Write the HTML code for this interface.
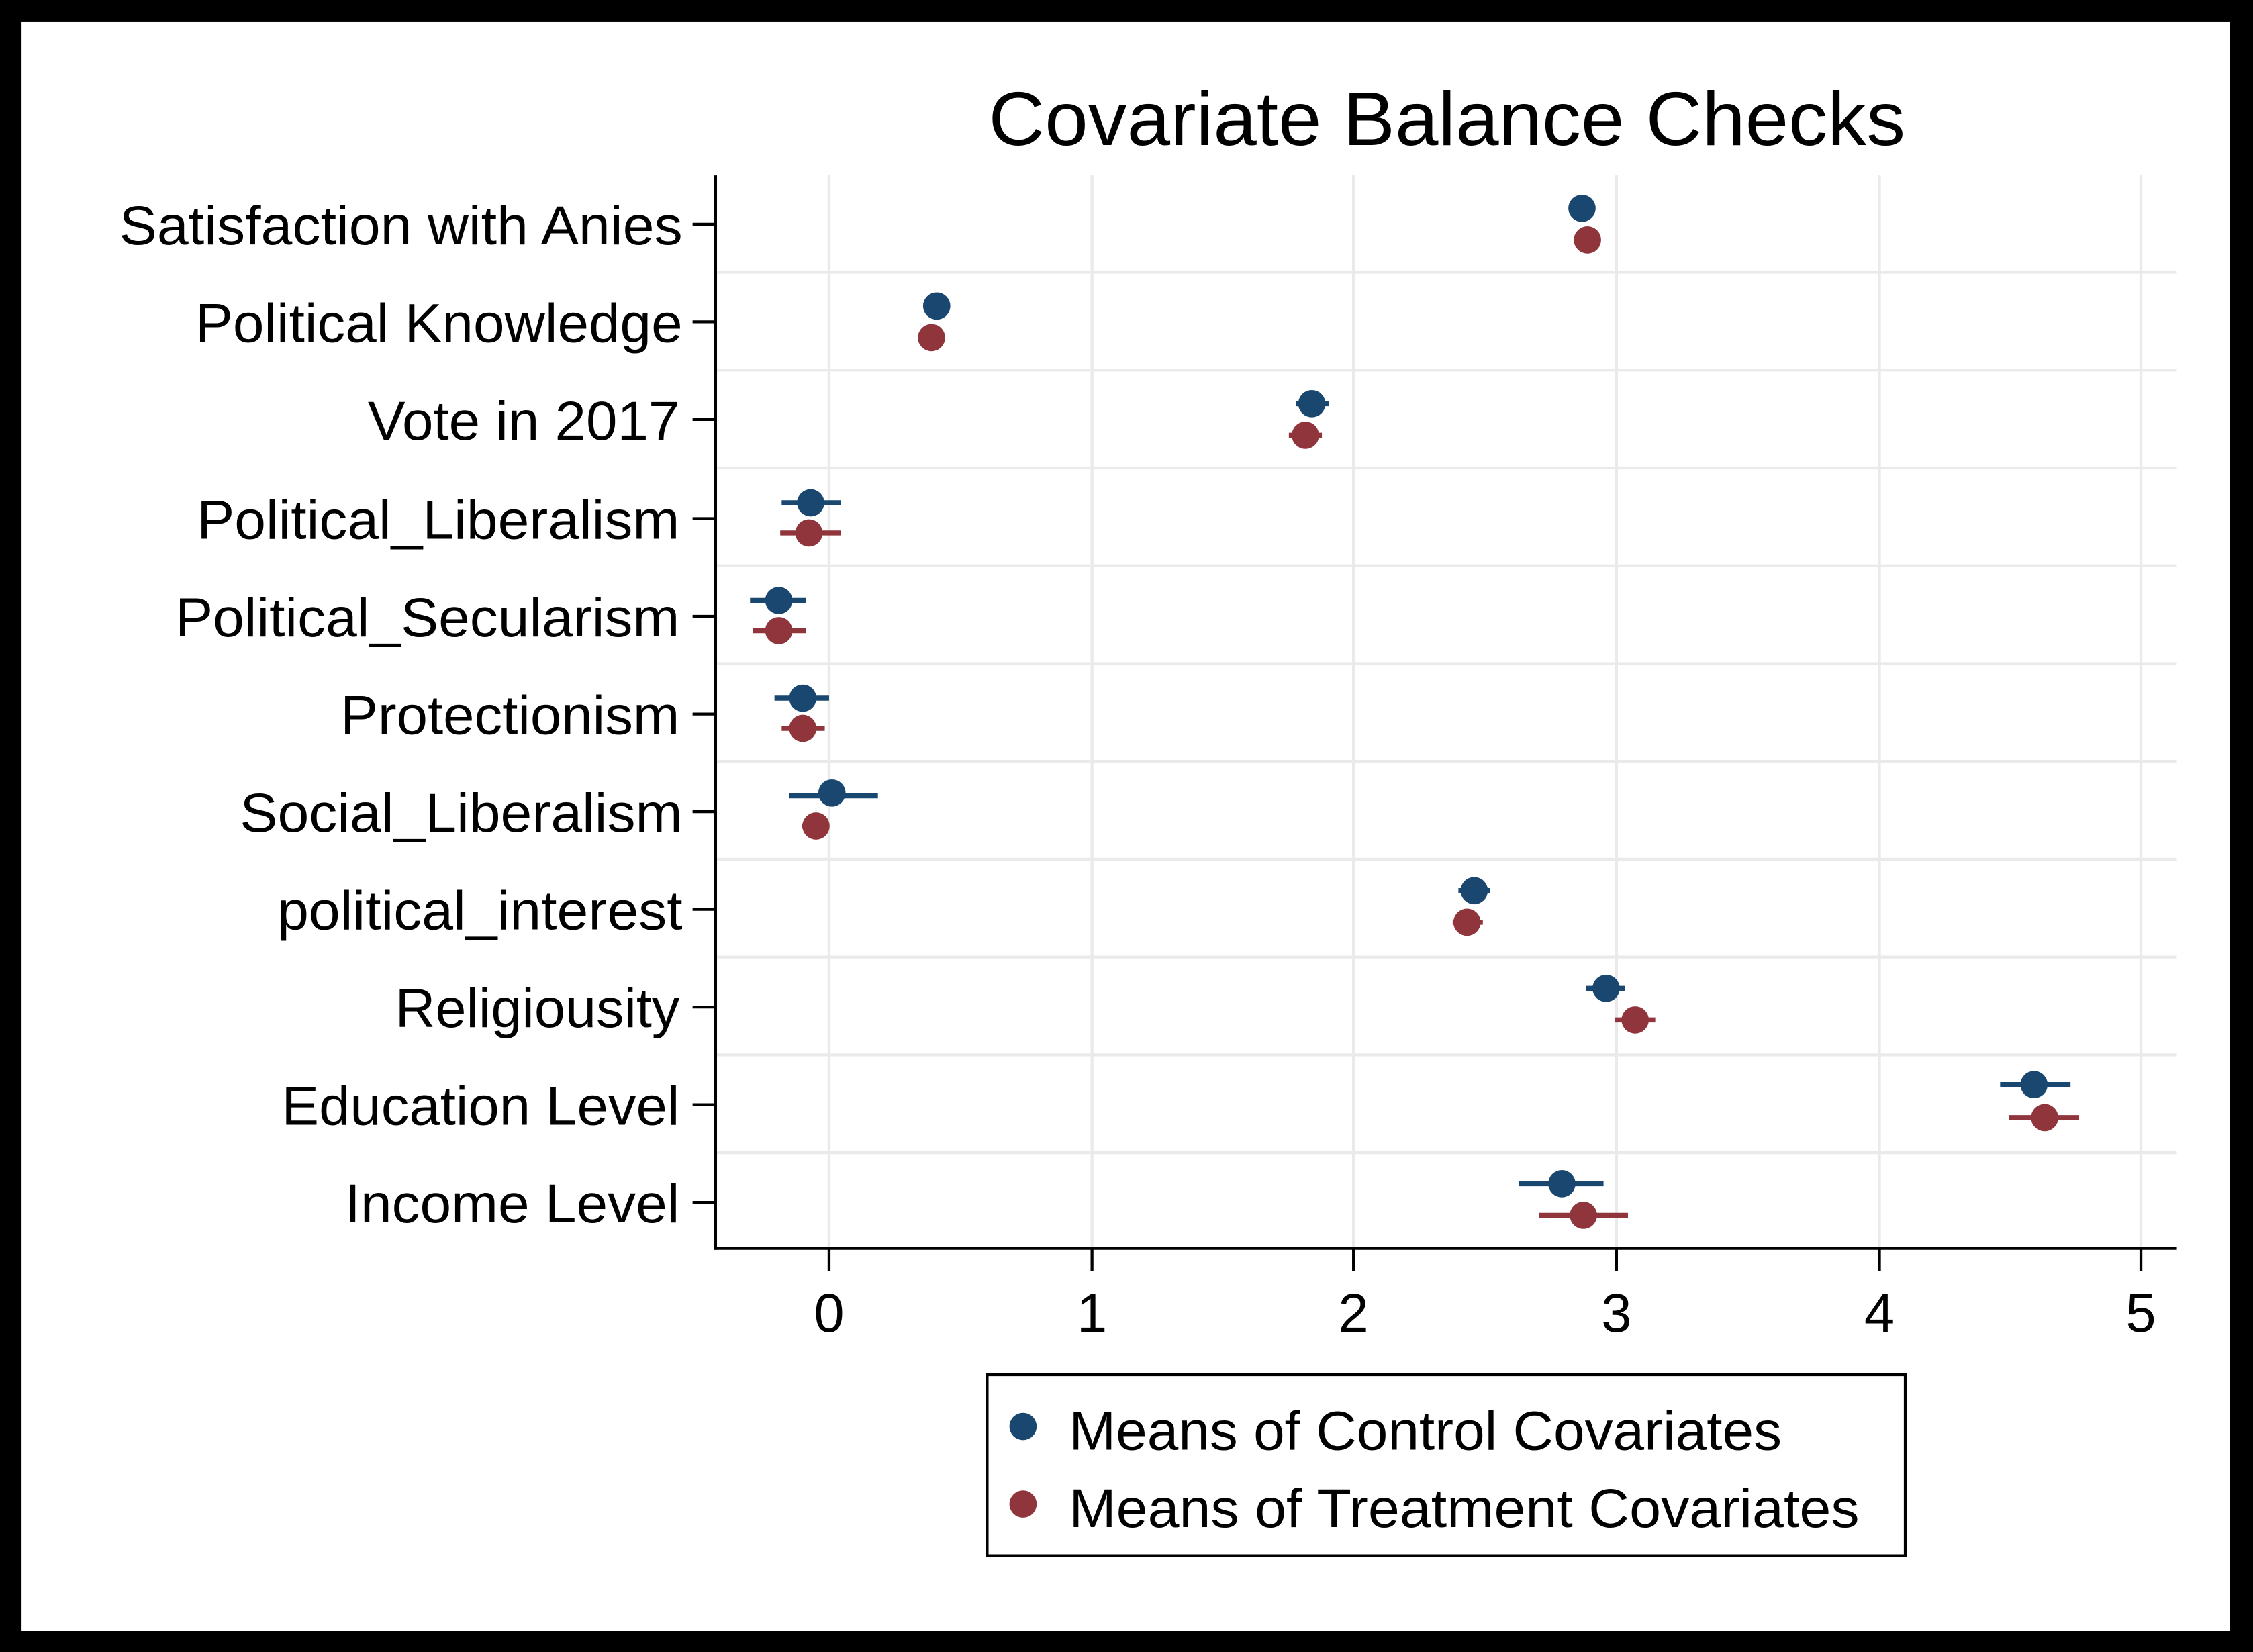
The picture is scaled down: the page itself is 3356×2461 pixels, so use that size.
<!DOCTYPE html>
<html><head><meta charset="utf-8"><style>html,body{margin:0;padding:0;background:#000}svg{display:block}</style></head>
<body>
<svg width="3356" height="2461" viewBox="0 0 1568 1150" preserveAspectRatio="none" xmlns="http://www.w3.org/2000/svg" font-family="Liberation Sans, Arial, sans-serif">
<rect x="0" y="0" width="1568" height="1150" fill="#000"/>
<rect x="15" y="15.4" width="1537" height="1120" fill="#fff"/>
<text x="688" y="101" font-size="53" textLength="638" lengthAdjust="spacingAndGlyphs" fill="#000">Covariate Balance Checks</text>
<g stroke="#eaeaea" stroke-width="2">
<line x1="577" y1="122" x2="577" y2="869"/><line x1="760" y1="122" x2="760" y2="869"/><line x1="942" y1="122" x2="942" y2="869"/><line x1="1125" y1="122" x2="1125" y2="869"/><line x1="1308" y1="122" x2="1308" y2="869"/><line x1="1490" y1="122" x2="1490" y2="869"/>
<line x1="498" y1="189.5" x2="1515" y2="189.5"/><line x1="498" y1="257.6" x2="1515" y2="257.6"/><line x1="498" y1="325.7" x2="1515" y2="325.7"/><line x1="498" y1="393.8" x2="1515" y2="393.8"/><line x1="498" y1="461.9" x2="1515" y2="461.9"/><line x1="498" y1="530" x2="1515" y2="530"/><line x1="498" y1="598.1" x2="1515" y2="598.1"/><line x1="498" y1="666.2" x2="1515" y2="666.2"/><line x1="498" y1="734.3" x2="1515" y2="734.3"/><line x1="498" y1="802.4" x2="1515" y2="802.4"/>
</g>
<g stroke="#000" stroke-width="2">
<line x1="498" y1="122" x2="498" y2="870"/><line x1="497" y1="869" x2="1515" y2="869"/>
<line x1="482" y1="156" x2="498" y2="156"/><line x1="482" y1="224" x2="498" y2="224"/><line x1="482" y1="292" x2="498" y2="292"/><line x1="482" y1="361" x2="498" y2="361"/><line x1="482" y1="429" x2="498" y2="429"/><line x1="482" y1="497" x2="498" y2="497"/><line x1="482" y1="565" x2="498" y2="565"/><line x1="482" y1="633" x2="498" y2="633"/><line x1="482" y1="701" x2="498" y2="701"/><line x1="482" y1="769" x2="498" y2="769"/><line x1="482" y1="837" x2="498" y2="837"/>
<line x1="577" y1="869" x2="577" y2="885"/><line x1="760" y1="869" x2="760" y2="885"/><line x1="942" y1="869" x2="942" y2="885"/><line x1="1125" y1="869" x2="1125" y2="885"/><line x1="1308" y1="869" x2="1308" y2="885"/><line x1="1490" y1="869" x2="1490" y2="885"/>
</g>
<g font-size="38" fill="#000" lengthAdjust="spacingAndGlyphs">
<text x="83" y="170" textLength="392" lengthAdjust="spacingAndGlyphs">Satisfaction with Anies</text>
<text x="136" y="238" textLength="339" lengthAdjust="spacingAndGlyphs">Political Knowledge</text>
<text x="256" y="306" textLength="217" lengthAdjust="spacingAndGlyphs">Vote in 2017</text>
<text x="137" y="375" textLength="336" lengthAdjust="spacingAndGlyphs">Political_Liberalism</text>
<text x="122" y="443" textLength="351" lengthAdjust="spacingAndGlyphs">Political_Secularism</text>
<text x="237" y="511" textLength="236" lengthAdjust="spacingAndGlyphs">Protectionism</text>
<text x="167" y="579" textLength="308" lengthAdjust="spacingAndGlyphs">Social_Liberalism</text>
<text x="193" y="647" textLength="282" lengthAdjust="spacingAndGlyphs">political_interest</text>
<text x="275" y="715" textLength="198" lengthAdjust="spacingAndGlyphs">Religiousity</text>
<text x="196" y="783" textLength="277" lengthAdjust="spacingAndGlyphs">Education Level</text>
<text x="240" y="851" textLength="233" lengthAdjust="spacingAndGlyphs">Income Level</text>
</g>
<g font-size="38" text-anchor="middle" fill="#000">
<text x="577" y="927">0</text><text x="760" y="927">1</text><text x="942" y="927">2</text><text x="1125" y="927">3</text><text x="1308" y="927">4</text><text x="1490" y="927">5</text>
</g>
<g stroke="#1a476f" stroke-width="3.5" fill="#1a476f">
<circle cx="1101" cy="145" r="9.5" stroke="none"/>
<circle cx="651.9" cy="213" r="9.5" stroke="none"/>
<line x1="902" y1="281" x2="925" y2="281"/><circle cx="913" cy="281" r="9.5" stroke="none"/>
<line x1="544" y1="350" x2="585" y2="350"/><circle cx="564.2" cy="350" r="9.5" stroke="none"/>
<line x1="522" y1="418" x2="561" y2="418"/><circle cx="542" cy="418" r="9.5" stroke="none"/>
<line x1="539" y1="486" x2="577" y2="486"/><circle cx="558.7" cy="486" r="9.5" stroke="none"/>
<line x1="549" y1="554" x2="611" y2="554"/><circle cx="579" cy="552" r="9.5" stroke="none"/>
<line x1="1015" y1="620" x2="1037" y2="620"/><circle cx="1026" cy="620" r="9.5" stroke="none"/>
<line x1="1104" y1="688" x2="1131" y2="688"/><circle cx="1117.8" cy="688" r="9.5" stroke="none"/>
<line x1="1392" y1="755" x2="1441" y2="755"/><circle cx="1415.6" cy="755" r="9.5" stroke="none"/>
<line x1="1057" y1="824" x2="1116" y2="824"/><circle cx="1087" cy="824" r="9.5" stroke="none"/>
</g>
<g stroke="#90353b" stroke-width="3.5" fill="#90353b">
<circle cx="1104.8" cy="167" r="9.5" stroke="none"/>
<circle cx="648.3" cy="235" r="9.5" stroke="none"/>
<line x1="897" y1="303" x2="920" y2="303"/><circle cx="908.5" cy="303" r="9.5" stroke="none"/>
<line x1="543" y1="371" x2="585" y2="371"/><circle cx="563" cy="371" r="9.5" stroke="none"/>
<line x1="524" y1="439" x2="561" y2="439"/><circle cx="542" cy="439" r="9.5" stroke="none"/>
<line x1="544" y1="507" x2="574" y2="507"/><circle cx="558.7" cy="507" r="9.5" stroke="none"/>
<line x1="558" y1="575" x2="576" y2="575"/><circle cx="567.9" cy="575" r="9.5" stroke="none"/>
<line x1="1011" y1="642" x2="1032" y2="642"/><circle cx="1021" cy="642" r="9.5" stroke="none"/>
<line x1="1124" y1="710" x2="1152" y2="710"/><circle cx="1138" cy="710" r="9.5" stroke="none"/>
<line x1="1398" y1="778" x2="1447" y2="778"/><circle cx="1423" cy="778" r="9.5" stroke="none"/>
<line x1="1071" y1="846" x2="1133" y2="846"/><circle cx="1102" cy="846" r="9.5" stroke="none"/>
</g>
<rect x="687" y="957" width="639" height="126" fill="#fff" stroke="#000" stroke-width="2"/>
<circle cx="712" cy="993" r="9.5" fill="#1a476f"/>
<circle cx="712" cy="1047" r="9.5" fill="#90353b"/>
<g font-size="38" fill="#000">
<text x="744" y="1009" textLength="496" lengthAdjust="spacingAndGlyphs">Means of Control Covariates</text>
<text x="744" y="1063" textLength="550" lengthAdjust="spacingAndGlyphs">Means of Treatment Covariates</text>
</g>
</svg>
</body></html>
